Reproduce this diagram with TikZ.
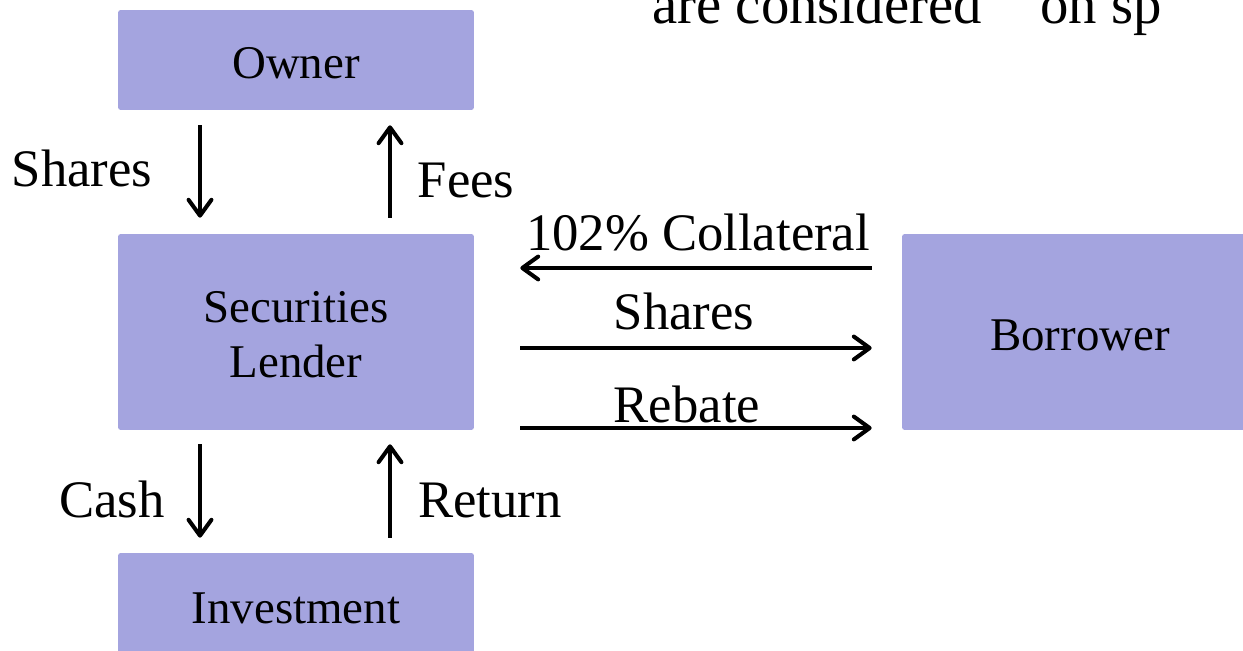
\documentclass[tikz,border=0pt]{standalone}
\usepackage{fontspec}
\setmainfont{Liberation Serif}
\usetikzlibrary{arrows.meta,calc}
\definecolor{boxfill}{HTML}{A4A4DF}
\begin{document}
\begin{tikzpicture}[x=0.02cm,y=-0.02cm,
  box/.style={fill=boxfill, draw=none, rounded corners=1.5pt, minimum width=7.12cm,
    inner sep=0pt, font=\fontsize{26.7}{31.75}\selectfont, text height=21pt, text depth=0pt, align=center},
  lbl/.style={font=\fontsize{30}{36}\selectfont, anchor=base, inner sep=0pt},
  toptext/.style={font=\fontsize{32.3}{38}\selectfont, anchor=base west, inner sep=0pt},
  arr/.style={line width=2.3pt, -{Straight Barb[length=9pt, width=13pt, line width=2.3pt, round]}}]
\useasboundingbox (0,0) rectangle (1243,651);
% top text
\node[toptext] (t1) at (652,24) {are considered};
\node[toptext] (t2) at (1040,24) {on sp};
% boxes
\node[box, minimum height=2cm] (owner) at (296,60) {Owner};
\node[box, minimum height=3.92cm, text height=52.2pt] (lender) at (296,332) {Securities\\Lender};
\node[box, minimum height=2.08cm] (invest) at (296,605) {Investment};
\node[box, minimum height=3.92cm] (borrower) at (1080,332) {Borrower};
% vertical arrows
\draw[arr, shorten <=0.3cm, shorten >=0.32cm] ($(owner.south)+(-96,0)$) -- ($(lender.north)+(-96,0)$);
\draw[arr, shorten <=0.32cm, shorten >=0.3cm] ($(lender.north)+(94,0)$) -- ($(owner.south)+(94,0)$);
\draw[arr, shorten <=0.28cm, shorten >=0.3cm] ($(lender.south)+(-96,0)$) -- ($(invest.north)+(-96,0)$);
\draw[arr, shorten <=0.3cm, shorten >=0.28cm] ($(invest.north)+(94,0)$) -- ($(lender.south)+(94,0)$);
% horizontal arrows
\draw[arr, shorten <=0.6cm, shorten >=0.92cm] ($(borrower.west)+(0,-64)$) -- ($(lender.east)+(0,-64)$);
\draw[arr, shorten <=0.92cm, shorten >=0.6cm] ($(lender.east)+(0,16)$) -- ($(borrower.west)+(0,16)$);
\draw[arr, shorten <=0.92cm, shorten >=0.6cm] ($(lender.east)+(0,96)$) -- ($(borrower.west)+(0,96)$);
% labels
\node[lbl] (lshares) at (82,187) {Shares};
\node[lbl] (lfees) at (466,198) {Fees};
\node[lbl] (lcoll) at (698,251) {102\% Collateral};
\node[lbl] (lshares2) at (684,330) {Shares};
\node[lbl] (lrebate) at (687,422) {Rebate};
\node[lbl] (lcash) at (112,517) {Cash};
\node[lbl] (lreturn) at (490,517) {Return};
\end{tikzpicture}
\end{document}
